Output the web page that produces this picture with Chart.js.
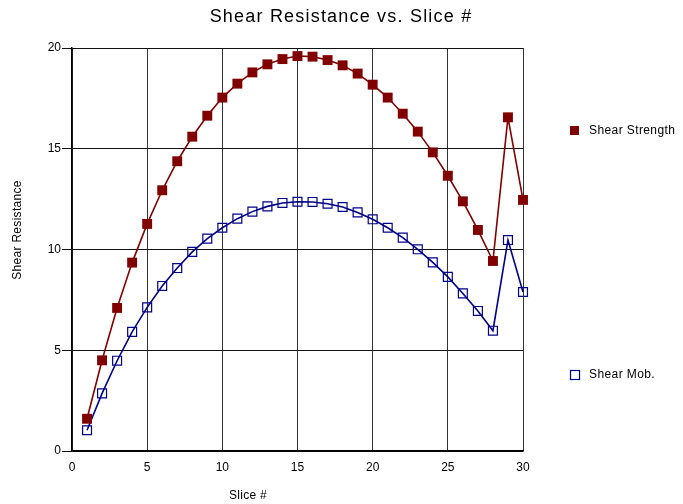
<!DOCTYPE html>
<html>
<head>
<meta charset="utf-8">
<script src="https://cdn.jsdelivr.net/npm/chart.js@4/dist/chart.umd.min.js"></script>
<style>
  html, body { margin: 0; padding: 0; background: #fff; }
  #wrap { width: 683px; height: 504px; }
</style>
</head>
<body>
<div id="wrap"><canvas id="myChart" width="683" height="504"></canvas></div>
<script>
// slice numbers and the two series
const slices = [1,2,3,4,5,6,7,8,9,10,11,12,13,14,15,16,17,18,19,20,21,22,23,24,25,26,27,28,29,30];
const shearStrength = [1.6,4.5,7.1,9.35,11.27,12.94,14.38,15.6,16.64,17.54,18.23,18.79,19.19,19.45,19.6,
                       19.57,19.4,19.14,18.73,18.18,17.54,16.74,15.85,14.82,13.66,12.39,10.97,9.43,16.56,12.46];
const shearMob = [1.03,2.86,4.48,5.91,7.13,8.19,9.08,9.88,10.54,11.08,11.53,11.88,12.14,12.31,12.37,
                  12.36,12.27,12.11,11.84,11.5,11.08,10.59,10.01,9.36,8.64,7.82,6.95,5.97,10.47,7.89];
const xTicks = [0,5,10,15,20,25,30];
const yTicks = [0,5,10,15,20];

const red = '#800000';
const blue = '#000088';
const font = 'Arial, "Liberation Sans", sans-serif';

// titles and legend are placed by hand like in the original
const decorations = {
  id: 'decorations',
  afterDraw(chart) {
    const c = chart.ctx;
    c.save();
    c.fillStyle = '#000';
    c.textBaseline = 'middle';
    c.textAlign = 'center';
    c.font = '18px ' + font;
    c.letterSpacing = '1.2px';
    c.fillText('Shear Resistance vs. Slice #', 341, 17);

    c.font = '12px ' + font;
    c.letterSpacing = '0.3px';
    c.fillText('Slice #', 248, 496);

    c.save();
    c.translate(18, 230);
    c.rotate(-Math.PI / 2);
    c.fillText('Shear Resistance', 0, 0);
    c.restore();

    // legend
    c.textAlign = 'left';
    c.fillStyle = red;
    c.fillRect(570, 126, 9, 9);
    c.strokeStyle = blue;
    c.lineWidth = 1.2;
    c.strokeRect(570.5, 370.5, 9, 9);
    c.fillStyle = '#000';
    c.letterSpacing = '0.4px';
    c.fillText('Shear Strength', 589, 131);
    c.fillText('Shear Mob.', 589, 375);
    c.restore();
  }
};

const ctx = document.getElementById('myChart');

new Chart(ctx, {
  type: 'line',
  data: {
    datasets: [{
      label: 'Shear Strength',
      data: slices.map((s, i) => ({x: s, y: shearStrength[i]})),
      borderColor: red,
      backgroundColor: red,
      borderWidth: 1.6,
      pointStyle: 'rect',
      pointRadius: 7,
      pointBorderWidth: 0,
      tension: 0,
      clip: false
    }, {
      label: 'Shear Mob.',
      data: slices.map((s, i) => ({x: s, y: shearMob[i]})),
      borderColor: blue,
      backgroundColor: 'rgba(0,0,0,0)',
      borderWidth: 1.6,
      pointStyle: 'rect',
      pointRadius: 6.3,
      pointBorderColor: blue,
      pointBorderWidth: 1.2,
      tension: 0,
      clip: false
    }]
  },
  options: {
    responsive: false,
    animation: false,
    layout: { padding: { left: 0, top: 48, right: 160, bottom: 0 } },
    plugins: {
      legend: { display: false },
      title: { display: false },
      tooltip: { enabled: false }
    },
    scales: {
      x: {
        type: 'linear',
        min: 0,
        max: 30,
        afterFit: s => { s.height = 53; },
        afterBuildTicks: s => { s.ticks = xTicks.map(v => ({value: v})); },
        grid: { color: '#333', lineWidth: 1, drawTicks: false },
        border: { color: '#000', width: 1.5 },
        ticks: { color: '#000', font: { family: font, size: 12 }, padding: 9, maxRotation: 0 }
      },
      y: {
        min: 0,
        max: 20,
        afterFit: s => { s.width = 72; },
        afterBuildTicks: s => { s.ticks = yTicks.map(v => ({value: v})); },
        grid: { color: '#111', lineWidth: 1, tickLength: 10 },
        border: { color: '#000', width: 1.5 },
        ticks: { color: '#000', font: { family: font, size: 12 }, padding: 1 }
      }
    }
  },
  plugins: [decorations]
});
</script>
</body>
</html>
